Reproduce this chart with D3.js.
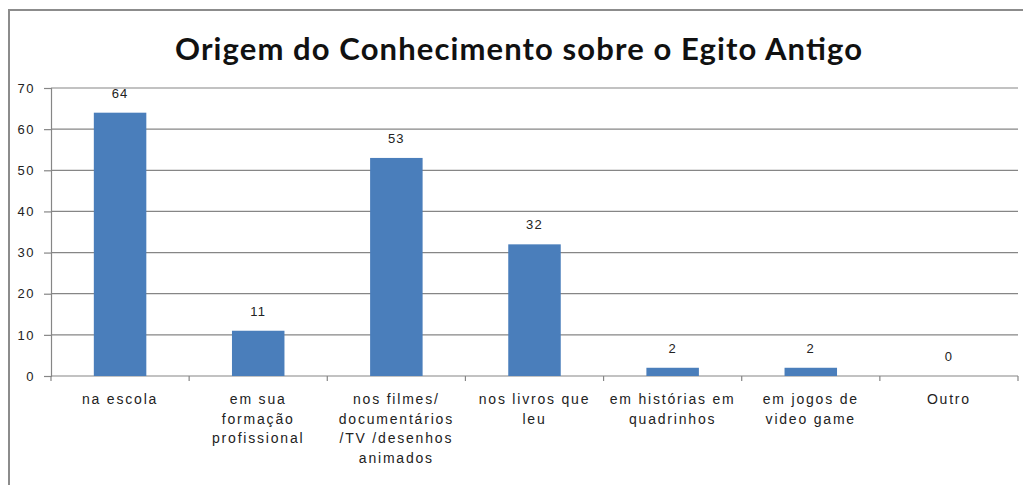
<!DOCTYPE html>
<html>
<head>
<meta charset="utf-8">
<script src="https://cdn.jsdelivr.net/npm/d3@7"></script>
<style>
  html, body { margin: 0; padding: 0; background: #fff; }
  svg { display: block; }
</style>
</head>
<body>
<svg id="chart" width="1023" height="485"></svg>
<script>
// Category labels (wrapped lines) and counts
const categories = [
  ["na escola"],
  ["em sua", "formação", "profissional"],
  ["nos filmes/", "documentários", "/TV /desenhos", "animados"],
  ["nos livros que", "leu"],
  ["em histórias em", "quadrinhos"],
  ["em jogos de", "video game"],
  ["Outro"]
];
const values = [64, 11, 53, 32, 2, 2, 0];
const yTicks = [0, 10, 20, 30, 40, 50, 60, 70];
const title = "Origem do Conhecimento sobre o Egito Antigo";

const svg = d3.select("#chart");
const W = 1023, H = 485;
const m = { left: 51, right: 1018, top: 88, bottom: 376 };
const font = "'Liberation Sans', Arial, sans-serif";

// outer chart frame (cropped on right and bottom)
svg.append("path")
  .attr("d", `M9,${H} L9,10 L${W},10`)
  .attr("fill", "none").attr("stroke", "#8c8c8c").attr("stroke-width", 2);

svg.append("text")
  .attr("x", 175).attr("y", 60)
  .attr("textLength", 687).attr("lengthAdjust", "spacing")
  .attr("font-family", "Lato, 'Open Sans', sans-serif")
  .attr("font-weight", "bold")
  .attr("font-size", 31)
  .attr("fill", "#111")
  .text(title);

const x = d3.scaleBand().domain(d3.range(categories.length)).range([m.left, m.right]).paddingInner(0.62).paddingOuter(0.31);
const xb = d3.scaleBand().domain(d3.range(categories.length)).range([m.left, m.right]);
const y = d3.scaleLinear().domain([0, 70]).range([m.bottom, m.top]);

// gridlines
svg.append("g").selectAll("line").data(yTicks.filter(d => d > 0)).join("line")
  .attr("x1", m.left).attr("x2", m.right)
  .attr("y1", d => y(d)).attr("y2", d => y(d))
  .attr("stroke", "#868686").attr("stroke-width", 1.2);

// y axis
const yAxis = d3.axisLeft(y).tickValues(yTicks).tickSize(7).tickPadding(9);
const gy = svg.append("g").attr("transform", `translate(${m.left},0)`).call(yAxis);
gy.select(".domain").attr("stroke", "#868686").attr("stroke-width", 1.2);
gy.selectAll(".tick line").attr("stroke", "#868686").attr("stroke-width", 1.2);
gy.selectAll(".tick text").attr("font-family", font).attr("font-size", 13)
  .attr("letter-spacing", 1.5).attr("fill", "#222");

// x axis with ticks between categories
svg.append("line").attr("x1", m.left).attr("x2", m.right)
  .attr("y1", m.bottom).attr("y2", m.bottom)
  .attr("stroke", "#868686").attr("stroke-width", 1.2);
svg.append("g").selectAll("line").data(d3.range(categories.length + 1)).join("line")
  .attr("x1", i => m.left + i * xb.step()).attr("x2", i => m.left + i * xb.step())
  .attr("y1", m.bottom).attr("y2", m.bottom + 5)
  .attr("stroke", "#868686").attr("stroke-width", 1.2);

// bars
svg.append("g").selectAll("rect").data(values).join("rect")
  .attr("x", (d, i) => x(i)).attr("width", x.bandwidth())
  .attr("y", d => y(d)).attr("height", d => m.bottom - y(d))
  .attr("fill", "#4a7ebb");

// value labels
svg.append("g").selectAll("text").data(values).join("text")
  .attr("x", (d, i) => xb(i) + xb.bandwidth() / 2)
  .attr("y", d => y(d) - 15)
  .attr("text-anchor", "middle")
  .attr("font-family", font).attr("font-size", 13).attr("letter-spacing", 1.2).attr("fill", "#222")
  .text(d => d);

// category labels
const cl = svg.append("g").selectAll("text").data(categories).join("text")
  .attr("x", (d, i) => xb(i) + xb.bandwidth() / 2)
  .attr("y", 404)
  .attr("text-anchor", "middle")
  .attr("font-family", font).attr("font-size", 14).attr("letter-spacing", 1.8).attr("fill", "#222");
cl.selectAll("tspan").data(d => d).join("tspan")
  .attr("x", function () { return d3.select(this.parentNode).attr("x"); })
  .attr("dy", (d, j) => j === 0 ? 0 : 19.7)
  .text(d => d);
</script>
</body>
</html>
